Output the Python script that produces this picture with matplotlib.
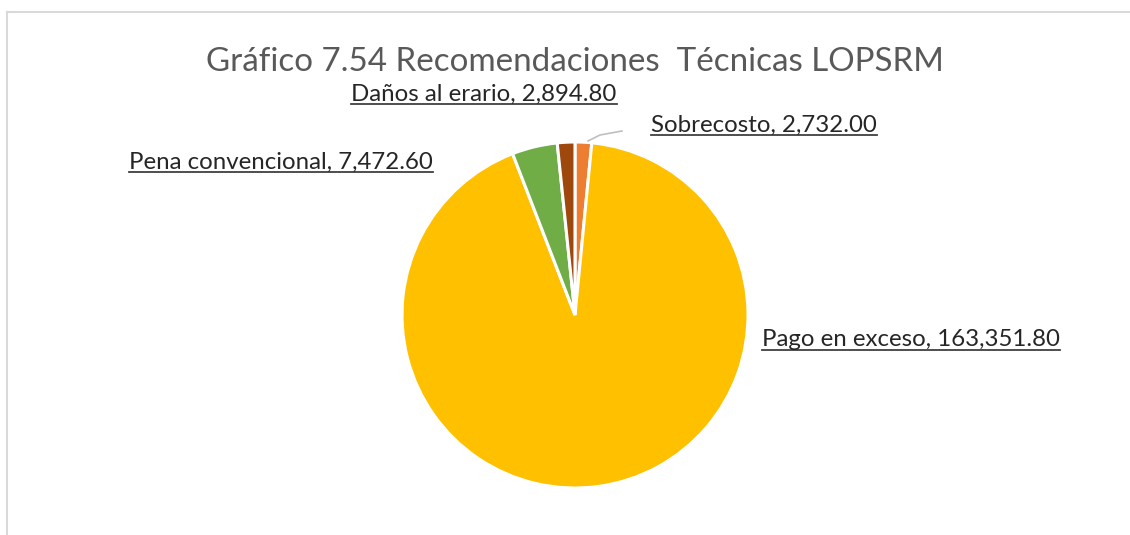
import matplotlib.pyplot as plt
from matplotlib.lines import Line2D

# data, clockwise from 12 o'clock
categories = ["Sobrecosto", "Pago en exceso", "Pena convencional", "Daños al erario"]
values = [2732.00, 163351.80, 7472.60, 2894.80]
colors = ["#ED7D31", "#FFC000", "#70AD47", "#9E480E"]
title = "Gráfico 7.54 Recomendaciones  Técnicas LOPSRM"

W, H = 1130, 535
font = "Lato"

fig = plt.figure(figsize=(W / 100, H / 100), dpi=100)
ax = fig.add_axes([0, 0, 1, 1])

ax.pie(values, colors=colors, startangle=90, counterclock=False,
       center=(575, H - 315), radius=173,
       wedgeprops=dict(edgecolor="white", linewidth=2.2))
ax.set_xlim(0, W)
ax.set_ylim(0, H)
ax.set_aspect("equal")
ax.axis("off")

# chart frame (only top and left visible)
ax.add_line(Line2D([7, W], [H - 12, H - 12], color="#d9d9d9", lw=1.5))
ax.add_line(Line2D([7, 7], [0, H - 12], color="#d9d9d9", lw=1.5))

ax.text(575, H - 62, title, ha="center", va="center", fontsize=23.9,
        color="#595959", family=font)

# label positions (pixel centers)
label_pos = {
    "Sobrecosto": (764, 125),
    "Pago en exceso": (911, 340),
    "Pena convencional": (281, 162),
    "Daños al erario": (484, 94),
}

labels = []
for cat, val in zip(categories, values):
    x, y = label_pos[cat]
    t = ax.text(x, H - y, f"{cat}, {val:,.2f}", ha="center", va="center",
                fontsize=17.3, color="#262626", family=font)
    labels.append(t)

# leader line for Sobrecosto
ax.plot([588, 600, 622], [H - 141, H - 135, H - 131], color="#bfbfbf", lw=1.2)

fig.canvas.draw()
renderer = fig.canvas.get_renderer()
for t in labels:
    bb = t.get_window_extent(renderer)
    yl = bb.y0 + 1
    ax.add_line(Line2D([bb.x0, bb.x1], [yl, yl], color="#404040", lw=1.3))

fig.savefig("out.png", dpi=100, facecolor="white")
